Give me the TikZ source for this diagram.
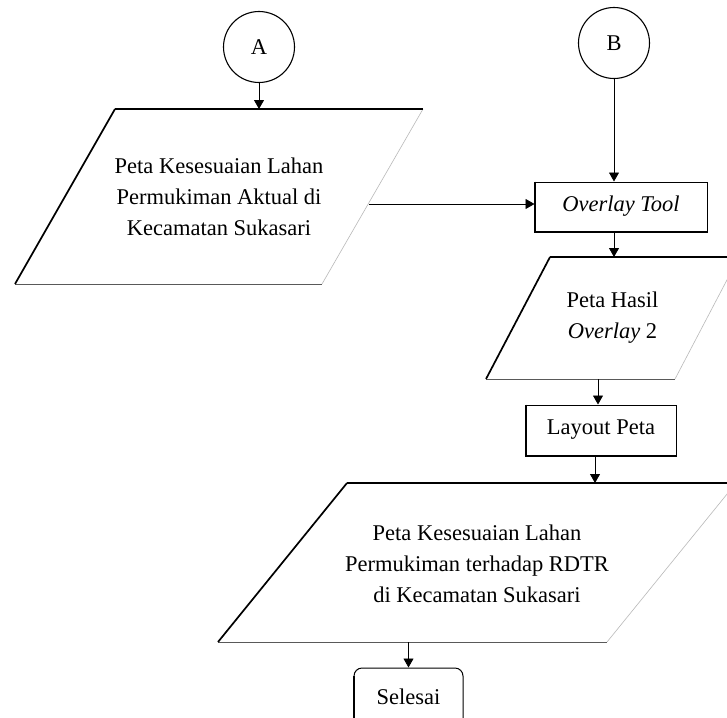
\documentclass[tikz,border=0pt]{standalone}
\usepackage{fontspec}
\setmainfont{Liberation Serif}
\usetikzlibrary{arrows.meta}
\tikzset{
  x=1pt, y=-1pt,
  every node/.style={font=\fontsize{22.5}{31}\selectfont, inner sep=0pt},
  conn/.style={draw=black, line width=1.1pt, minimum size=71pt, circle, fill=white},
  paratext/.style={rectangle, align=center},
  paraside/.style={draw=gray!55, line width=0.6pt},
  paraleft/.style={draw=black, line width=1.7pt},
  paratop/.style={draw=black, line width=1.1pt},
  parabottom/.style={draw=black!65, line width=1pt},
  procbox/.style={rectangle, draw=black, line width=1pt, fill=white},
  endbox/.style={rectangle, rounded corners=8pt, draw=black, line width=1pt, fill=white},
  arr/.style={draw=black, line width=0.8pt, -{Triangle[width=10pt,length=9pt]}},
}
% #1 name, #2 TL, #3 TR, #4 BR, #5 BL
\newcommand\parashape[5]{%
  \coordinate (#1tl) at #2; \coordinate (#1tr) at #3;
  \coordinate (#1br) at #4; \coordinate (#1bl) at #5;
  \fill[white] (#1tl) -- (#1tr) -- (#1br) -- (#1bl) -- cycle;
  \draw[paraside] (#1tr) -- (#1br);
  \draw[paratop] (#1tl) -- (#1tr);
  \draw[parabottom] (#1bl) -- (#1br);
  \draw[paraleft] (#1bl) -- (#1tl);}
\newcommand\boxedges[1]{%
  \draw[line width=2pt] (#1.north west) -- (#1.south west) -- (#1.south east);}
\begin{document}
\begin{tikzpicture}
\useasboundingbox[fill=white] (0,0) rectangle (727,717);
% connectors A and B
\node[conn] (A) at (259,47) {A};
\node[conn] (B) at (614,43) {B};
% parallelogram 1
\parashape{P1}{(115,109)}{(423,109)}{(322,284)}{(15,284)}
\node[paratext, minimum width=208pt, minimum height=175pt] (P1) at (219,196.5)
  {Peta Kesesuaian Lahan\\Permukiman Aktual di\\Kecamatan Sukasari};
\coordinate (P1r) at (369,204);
% overlay tool
\node[procbox, minimum width=172pt, minimum height=49pt] (OT) at (621,206.5) {\itshape Overlay Tool};
\boxedges{OT}
% parallelogram 2
\parashape{P2}{(550,257)}{(739,257)}{(675,379)}{(486,379)}
\node[paratext, minimum width=125pt, minimum height=122pt] (P2) at (612.5,318)
  {Peta Hasil\\\textit{Overlay} 2};
% layout peta
\node[procbox, minimum width=150pt, minimum height=50pt] (L) at (601,430) {Layout Peta};
\boxedges{L}
% parallelogram 3
\parashape{P3}{(347,483)}{(736,483)}{(607,642)}{(218,642)}
\node[paratext, minimum width=260pt, minimum height=159pt] (P3) at (477,564)
  {Peta Kesesuaian Lahan\\Permukiman terhadap RDTR\\di Kecamatan Sukasari};
% selesai
\node[endbox, minimum width=109pt, minimum height=60pt, text depth=0pt] (S) at (408.5,698) {\raisebox{3pt}{Selesai}};
\draw[line width=2pt] ([yshift=-8pt]S.north west) -- ([yshift=8pt]S.south west);
% arrows
\draw[arr] (A.south) -- (A.south |- P1tl);
\draw[arr] (B.south) -- (B.south |- OT.north);
\draw[arr] (P1r) -- (P1r -| OT.west);
\draw[arr] (OT.south -| B.south) -- (B.south |- P2tl);
\draw[arr] (598,0 |- P2bl) -- (598,0 |- L.north);
\draw[arr] (L.south -| 595,0) -- (595,0 |- P3tl);
\draw[arr] (S.north |- P3bl) -- (S.north);
\end{tikzpicture}
\end{document}
